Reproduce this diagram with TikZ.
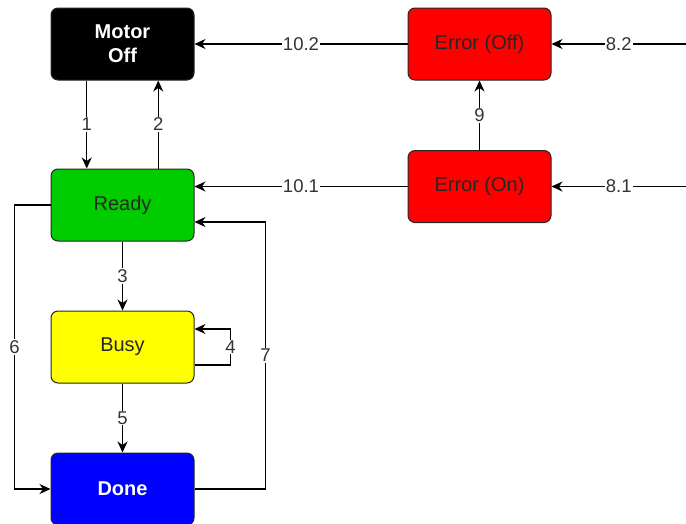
\documentclass[tikz,border=0pt]{standalone}
\usepackage{fontspec}
\setmainfont{Liberation Sans}
\usetikzlibrary{arrows.meta}

\definecolor{readygreen}{HTML}{00CC00}
\definecolor{busyyellow}{HTML}{FFFF00}
\definecolor{doneblue}{HTML}{0000FF}
\definecolor{errorred}{HTML}{FF0000}

\tikzset{
    state/.style={draw=black!85, line width=1pt, rounded corners=7pt,
        minimum width=143pt, minimum height=72pt, align=center,
        text=black!85, font=\fontsize{20}{24}\selectfont},
    strong/.style={text=white, font=\fontsize{20}{24}\selectfont\bfseries},
    edge/.style={line width=1.4pt, -{Stealth[length=11pt,width=10pt,inset=3.5pt]}},
    lbl/.style={fill=white, inner sep=1pt, text=black!80,
        font=\fontsize{18.5}{20}\selectfont},
}

\begin{document}
\begin{tikzpicture}[x=1pt, y=-1pt]
            \useasboundingbox (0,0) rectangle (686,523);

            % states
            \node[state, strong, fill=black] (off) at (122.5,44) {Motor\\Off};
            \node[state, fill=readygreen] (ready) at (122.5,205) {Ready};
            \node[state, fill=busyyellow] (busy) at (122.5,347) {Busy};
            \node[state, strong, fill=doneblue] (done) at (122.5,489) {Done};
            \node[state, fill=errorred] (eoff) at (479.5,44) {Error (Off)};
            \node[state, fill=errorred] (eon) at (479.5,186.5) {Error (On)};

            % incoming from the right side
            \coordinate (in82) at (686,44);
            \coordinate (in81) at (686,186.5);

            \draw[edge] ([xshift=-35.75]off.south) -- ([xshift=-35.75]ready.north) node[lbl, midway] {1};
            \draw[edge] ([xshift=35.75]ready.north) -- ([xshift=35.75]off.south) node[lbl, midway] {2};
            \draw[edge] (ready.south) -- (busy.north) node[lbl, midway] {3};
            \draw[edge] ([yshift=-18]busy.east) -- ++(36,0) |- ([yshift=18]busy.east) node[lbl, pos=0.25] {4};
            \draw[edge] (busy.south) -- (done.north) node[lbl, midway] {5};
            \draw[edge] (ready.west) -- ++(-36,0) |- (done.west) node[lbl, pos=0.25] {6};
            \draw[edge] (done.east) -- ++(71,0) |- ([yshift=-17]ready.east) node[lbl, pos=0.25] {7};

            \draw[edge] (in82) -- (eoff.east) node[lbl, midway] {8.2};
            \draw[edge] (in81) -- (eon.east) node[lbl, midway] {8.1};
            \draw[edge] (eon.north) -- (eoff.south) node[lbl, midway] {9};
            \draw[edge] (eon.west) -- (eon.west -| ready.east) node[lbl, midway] {10.1};
            \draw[edge] (eoff.west) -- (off.east) node[lbl, midway] {10.2};

        \end{tikzpicture}
\end{document}
